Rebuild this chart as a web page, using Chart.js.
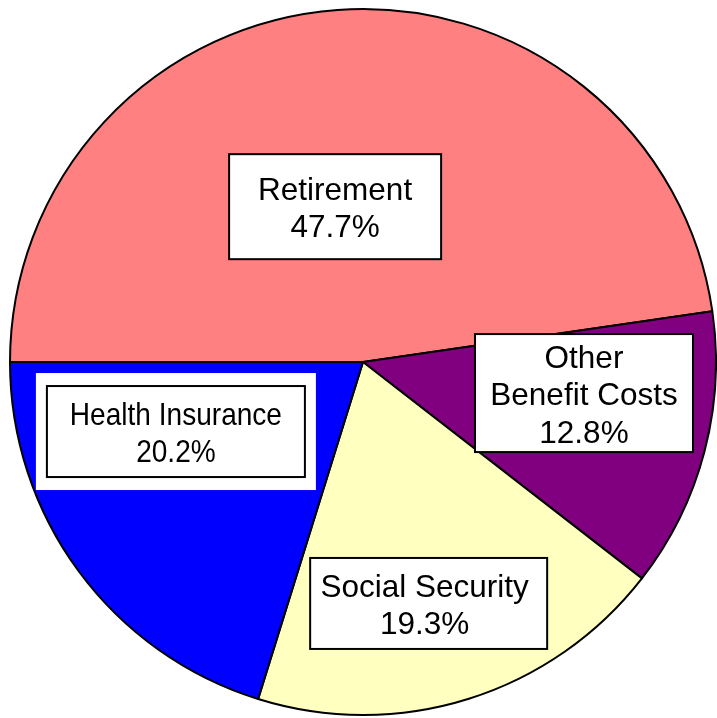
<!DOCTYPE html>
<html>
<head>
<meta charset="utf-8">
<script src="https://cdn.jsdelivr.net/npm/chart.js@4/dist/chart.umd.min.js"></script>
<style>
  html, body { margin: 0; padding: 0; background: #fff; }
  #wrap { width: 717px; height: 718px; }
</style>
</head>
<body>
<div id="wrap"><canvas id="benefitChart"></canvas></div>
<script>
// Benefit cost shares (percent)
const categories = ['Retirement', 'Other Benefit Costs', 'Social Security', 'Health Insurance'];
const shares = [47.7, 12.8, 19.3, 20.2];
const sliceColors = ['#FF8080', '#800080', '#FFFFC0', '#0000FF'];

// label text lines for each slice
const labelLines = [
  ['Retirement', '47.7%'],
  ['Other', 'Benefit Costs', '12.8%'],
  ['Social Security', '19.3%'],
  ['Health Insurance', '20.2%'],
];

// box placement relative to pie centre (in radii) and box size in px
const labelBoxes = [
  { dx: -0.079, dy: -0.440, w: 212, h: 105, size: 31.5 },
  { dx: 0.626, dy: 0.088, w: 218, h: 118, size: 31.5 },
  { dx: 0.186, dy: 0.684, w: 237, h: 91, size: 31.5, tx: -4 },
  { dx: -0.530, dy: 0.197, w: 258, h: 91, size: 30.5, sx: 0.92, halo: 11 },
];

const boxLabels = {
  id: 'boxLabels',
  afterDatasetsDraw(chart) {
    const ctx = chart.ctx;
    const arc = chart.getDatasetMeta(0).data[0];
    const cx = arc.x, cy = arc.y, r = arc.outerRadius;
    ctx.save();
    ctx.textAlign = 'center';
    ctx.textBaseline = 'alphabetic';
    labelBoxes.forEach((b, i) => {
      const bx = cx + b.dx * r;
      const by = cy + b.dy * r;
      if (b.halo) {
        ctx.fillStyle = '#fff';
        ctx.fillRect(bx - b.w / 2 - b.halo, by - b.h / 2 - 13, b.w + b.halo * 2, b.h + 26);
      }
      ctx.fillStyle = '#fff';
      ctx.fillRect(bx - b.w / 2, by - b.h / 2, b.w, b.h);
      ctx.lineWidth = 2;
      ctx.strokeStyle = '#000';
      ctx.strokeRect(bx - b.w / 2, by - b.h / 2, b.w, b.h);

      ctx.font = b.size + 'px "Liberation Sans", Arial, sans-serif';
      const lines = labelLines[i];
      const lh = 37.5;
      const sx = b.sx || 1;
      let y = by - (lines.length - 1) * lh / 2 + 12;
      ctx.fillStyle = '#000';
      lines.forEach(t => {
        ctx.save();
        ctx.translate(bx + (b.tx || 0), y);
        ctx.scale(sx, 1);
        ctx.fillText(t, 0, 0);
        ctx.restore();
        y += lh;
      });
    });
    ctx.restore();
  }
};

const ctx = document.getElementById('benefitChart').getContext('2d');
const benefitChart = new Chart(ctx, {
  type: 'pie',
  data: {
    labels: categories,
    datasets: [{
      data: shares,
      backgroundColor: sliceColors,
      borderColor: '#000',
      borderWidth: 2,
    }],
  },
  options: {
    responsive: true,
    maintainAspectRatio: false,
    animation: false,
    rotation: -90,
    layout: {
      padding: { left: 9, right: -2, top: 8, bottom: 2 },
    },
    plugins: {
      legend: { display: false },
      tooltip: { enabled: false },
    },
  },
  plugins: [boxLabels],
});
</script>
</body>
</html>
